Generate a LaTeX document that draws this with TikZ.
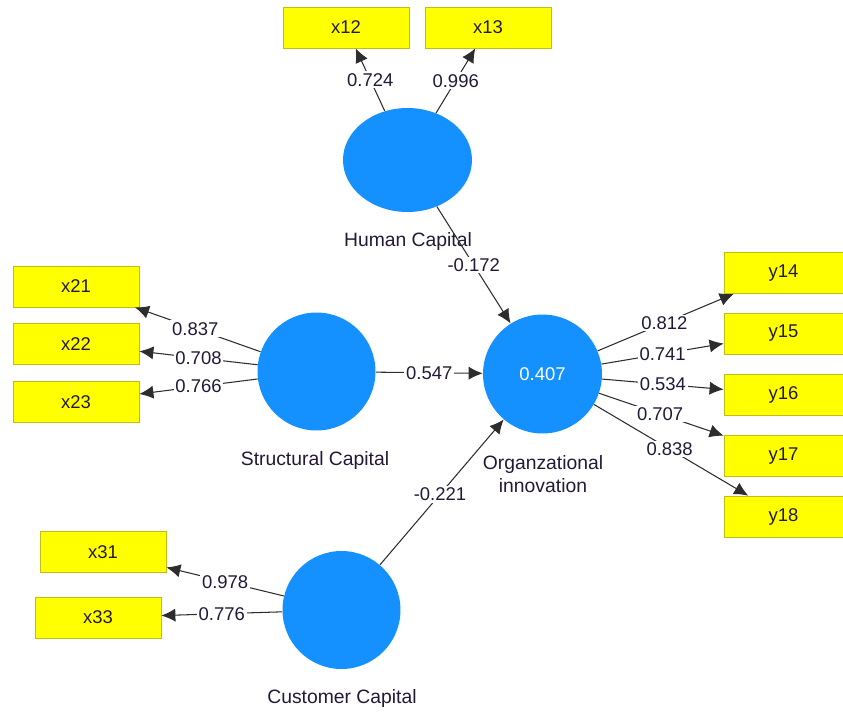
\documentclass[tikz,border=0pt]{standalone}
\usepackage{fontspec}
\setmainfont{Liberation Sans}
\usetikzlibrary{shapes.geometric,arrows.meta}
\definecolor{lvblue}{RGB}{20,144,255}
\definecolor{mvyellow}{RGB}{255,255,0}
\definecolor{mvedge}{RGB}{190,190,20}
\definecolor{ptext}{RGB}{35,25,55}
\definecolor{pline}{RGB}{45,45,45}
\tikzset{
  ind/.style={draw=mvedge, fill=mvyellow, minimum width=2.52cm, minimum height=0.82cm,
    inner sep=0pt, text=ptext, font=\fontsize{10.5}{12}\selectfont},
  indr/.style={ind, minimum width=2.38cm},
  lv/.style={circle, fill=lvblue, minimum size=2.36cm, inner sep=0pt},
  lvname/.style={text=ptext, align=center, font=\fontsize{11}{13}\selectfont},
  ld/.style={fill=white, inner sep=1pt, text=ptext, font=\fontsize{10.5}{12}\selectfont},
  con/.style={draw=pline, line width=0.6pt, -{Latex[length=8pt,width=7.5pt]}}
}
\begin{document}
\begin{tikzpicture}[x=0.02cm,y=-0.02cm]
\useasboundingbox (0,0) rectangle (843,711);

  % latent variables
  \node[lv, ellipse, minimum width=2.58cm, minimum height=2.08cm] (hc) at (407.5,160) {};
  \node[lv] (sc) at (316.5,371.5) {};
  \node[lv] (cc) at (341.5,610) {};
  \node[lv, minimum size=2.38cm, text=white, font=\fontsize{10.5}{12}\selectfont] (oi) at (542.5,374) {0.407};
  \node[lvname] (hclab) at (408,241) {Human Capital};
  \node[lvname] (sclab) at (315,460) {Structural Capital};
  \node[lvname] (cclab) at (342,698) {Customer Capital};
  \node[lvname, text=ptext] (oilab) at (543,474) {Organzational\\innovation};

  % indicators
  \node[ind] (x12) at (346,27.5) {x12};
  \node[ind] (x13) at (488,27.5) {x13};
  \node[ind] (x21) at (76,286.5) {x21};
  \node[ind] (x22) at (76,344) {x22};
  \node[ind] (x23) at (76,402) {x23};
  \node[ind] (x31) at (103,552) {x31};
  \node[ind] (x33) at (98,617.5) {x33};
  \node[indr] (y14) at (783.5,273) {y14};
  \node[indr] (y15) at (783.5,333.5) {y15};
  \node[indr] (y16) at (783.5,394.5) {y16};
  \node[indr] (y17) at (783.5,456) {y17};
  \node[indr] (y18) at (783.5,516.5) {y18};

  % loadings
  \draw[con] (hc) -- node[ld] {0.724} (x12);
  \draw[con] (hc) -- node[ld] {0.996} (x13);
  \draw[con] (sc) -- node[ld, pos=.52] {0.837} (x21);
  \draw[con] (sc) -- node[ld] {0.708} (x22);
  \draw[con] (sc) -- node[ld] {0.766} (x23);
  \draw[con] (cc) -- node[ld] {0.978} (x31);
  \draw[con] (cc) -- node[ld] {0.776} (x33);
  \draw[con] (oi) -- node[ld, pos=.49] {0.812} (y14);
  \draw[con] (oi) -- node[ld] {0.741} (y15);
  \draw[con] (oi) -- node[ld] {0.534} (y16);
  \draw[con] (oi) -- node[ld, pos=.49] {0.707} (y17);
  \draw[con] (oi) -- node[ld, pos=.49] {0.838} (y18);

  % paths
  \draw[con] (hc) -- node[ld] {-0.172} (oi);
  \draw[con] (sc) -- node[ld] {0.547} (oi);
  \draw[con] (cc) -- node[ld, pos=.485] {-0.221} (oi);
\end{tikzpicture}
\end{document}
